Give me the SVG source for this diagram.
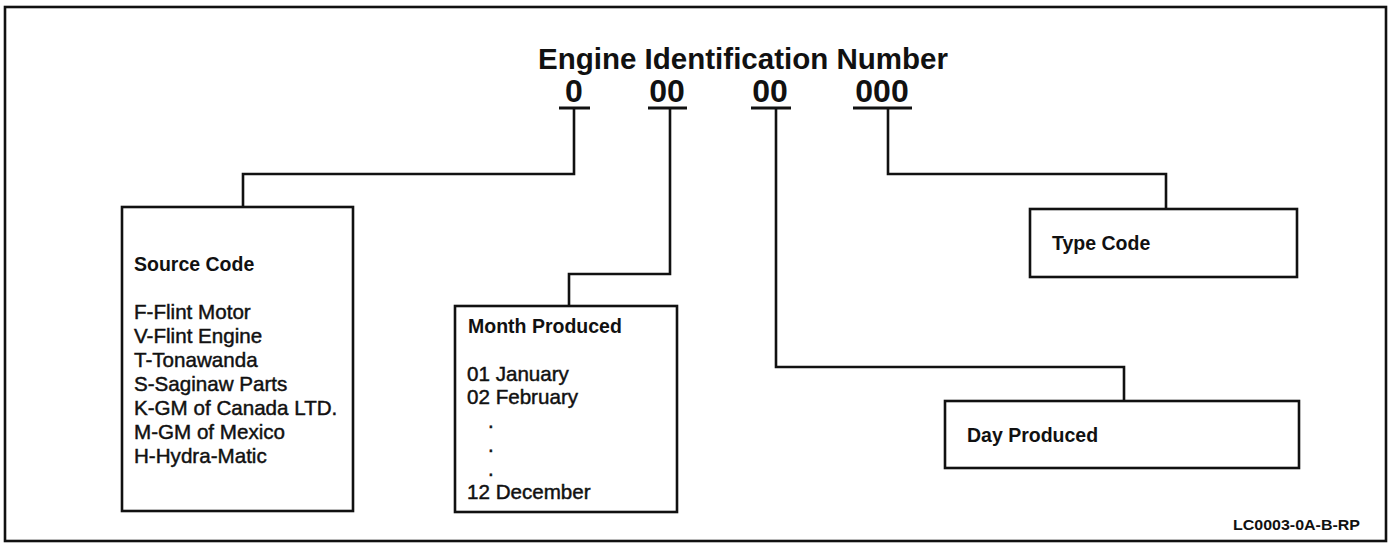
<svg xmlns="http://www.w3.org/2000/svg" width="1392" height="544" viewBox="0 0 1392 544">
<style>
.box{fill:#fff;stroke:#111;stroke-width:2.6}
.conn{fill:none;stroke:#111;stroke-width:2.6;stroke-linejoin:miter}
.ul{stroke:#111;stroke-width:3}
.t{font-family:"Liberation Sans",Arial,sans-serif;fill:#111}
.h{font-weight:bold;font-size:19.5px}
.i{font-size:20.6px;stroke:#111;stroke-width:0.45}
.title{font-weight:bold;font-size:30px}
.dig{font-weight:bold;font-size:32px}
</style>
<rect x="0" y="0" width="1392" height="544" fill="#fff"/>
<rect id="frame" x="5" y="7" width="1381" height="534" fill="none" stroke="#111" stroke-width="2.6"/>
<g id="header">
<text class="t title" x="538" y="69" textLength="410" lengthAdjust="spacingAndGlyphs">Engine Identification Number</text>
<text class="t dig" x="574" y="102" text-anchor="middle">0</text>
<text class="t dig" x="667" y="102" text-anchor="middle">00</text>
<text class="t dig" x="770" y="102" text-anchor="middle">00</text>
<text class="t dig" x="882" y="102" text-anchor="middle">000</text>
<line class="ul" x1="559" y1="108" x2="590" y2="108"/>
<line class="ul" x1="648" y1="108" x2="687" y2="108"/>
<line class="ul" x1="751" y1="108" x2="791" y2="108"/>
<line class="ul" x1="853" y1="108" x2="912" y2="108"/>
</g>
<g id="connectors">
<path class="conn" d="M574,108 V174 H243 V207"/>
<path class="conn" d="M670,108 V274 H569 V306"/>
<path class="conn" d="M776,108 V367 H1124 V401"/>
<path class="conn" d="M888,108 V174 H1166 V209"/>
</g>
<g id="source-code">
<rect class="box" x="122" y="207" width="231" height="304"/>
<text class="t h" x="134" y="271">Source Code</text>
<text class="t i" x="134" y="319">F-Flint Motor</text>
<text class="t i" x="134" y="343">V-Flint Engine</text>
<text class="t i" x="134" y="367">T-Tonawanda</text>
<text class="t i" x="134" y="391">S-Saginaw Parts</text>
<text class="t i" x="134" y="415">K-GM of Canada LTD.</text>
<text class="t i" x="134" y="439">M-GM of Mexico</text>
<text class="t i" x="134" y="463">H-Hydra-Matic</text>
</g>
<g id="month-produced">
<rect class="box" x="455" y="306" width="222" height="206"/>
<text class="t h" x="468" y="333">Month Produced</text>
<text class="t i" x="467" y="381">01 January</text>
<text class="t i" x="467" y="404">02 February</text>
<text class="t i" x="488" y="428">.</text>
<text class="t i" x="488" y="452">.</text>
<text class="t i" x="488" y="476">.</text>
<text class="t i" x="467" y="499">12 December</text>
</g>
<g id="day-produced">
<rect class="box" x="945" y="401" width="354" height="67"/>
<text class="t h" x="967" y="442">Day Produced</text>
</g>
<g id="type-code">
<rect class="box" x="1030" y="209" width="267" height="68"/>
<text class="t h" x="1052" y="250">Type Code</text>
</g>
<text id="ref" class="t" x="1233" y="530" font-weight="bold" font-size="14.5" textLength="127" lengthAdjust="spacingAndGlyphs">LC0003-0A-B-RP</text>
</svg>
